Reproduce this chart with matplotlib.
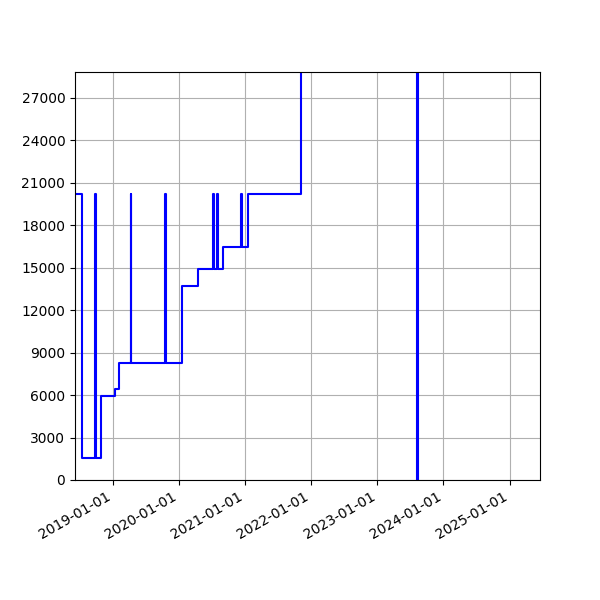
import matplotlib
matplotlib.use('Agg')
import matplotlib.pyplot as plt
import matplotlib.dates as mdates
import numpy as np
from datetime import datetime

# step changes (date, value from that date on)
dates = [
    '2018-06-01', '2018-07-16', '2018-09-26', '2018-09-29', '2018-10-27',
    '2019-01-12', '2019-01-16', '2019-02-07', '2019-04-10', '2019-04-13',
    '2019-10-18', '2019-10-21', '2020-01-20', '2020-04-18', '2020-07-08',
    '2020-07-11', '2020-07-30', '2020-08-02', '2020-09-02', '2020-12-12',
    '2020-12-15', '2021-01-19', '2021-11-08', '2023-08-08', '2023-08-14',
]
values = [
    20200, 1550, 20200, 1550, 5950,
    6150, 6400, 8250, 20200, 8250,
    20200, 8250, 13700, 14900, 20200,
    14900, 20200, 14900, 16450, 20200,
    16450, 20200, 1000000, 0, 1000000,
]

x = [datetime.strptime(d, '%Y-%m-%d') for d in dates]
y = np.array(values)

fig, ax = plt.subplots(figsize=(6, 6), dpi=100)
ax.plot(x, y, color='b', drawstyle='steps-post', linewidth=1.5)
ax.set_xlim(datetime(2018, 6, 7), datetime(2025, 6, 17))
ax.set_ylim(0, 28830)
ax.yaxis.set_major_locator(plt.MultipleLocator(3000))
ax.xaxis.set_major_locator(mdates.YearLocator())
ax.xaxis.set_major_formatter(mdates.DateFormatter('%Y-%m-%d'))
ax.grid(True)
fig.autofmt_xdate()
fig.savefig('out.png', dpi=100)
